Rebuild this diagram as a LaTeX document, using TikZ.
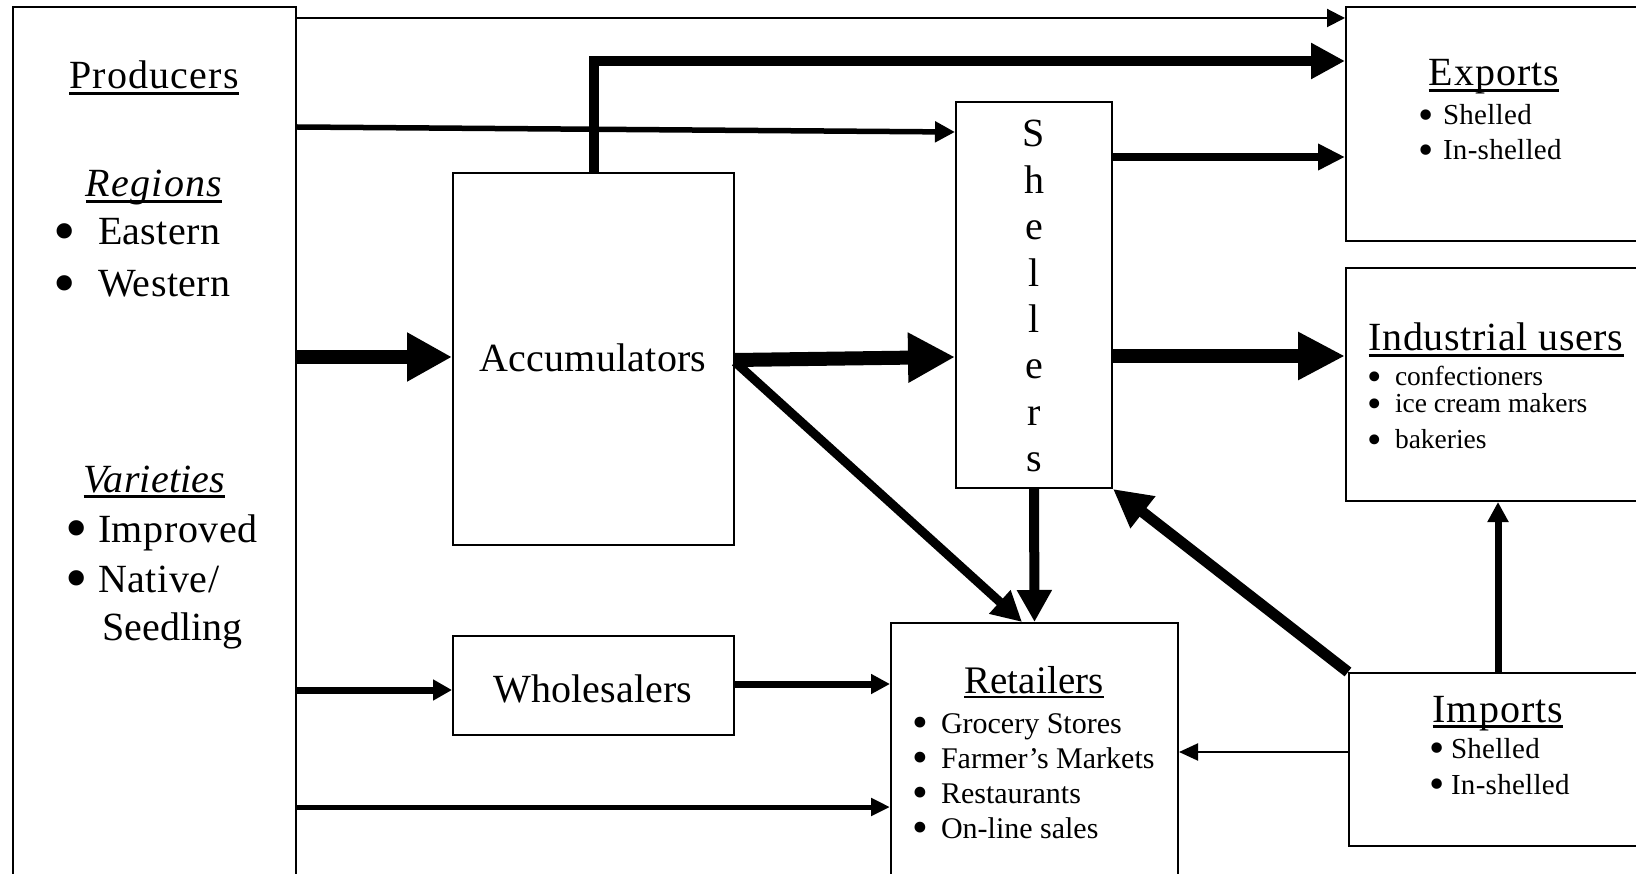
\documentclass[tikz,border=0pt]{standalone}
\usepackage{fontspec}
\usepackage{graphicx}
\setmainfont{Liberation Serif}
\usetikzlibrary{arrows.meta}
\newcommand\ft[2]{\fontsize{#1}{#1}\selectfont\addfontfeature{LetterSpace=#2}}
\newcommand\ulx[1]{\setbox0\hbox{#1}\rlap{\rule[-0.14em]{\wd0}{0.07em}}\box0}
\newcommand\bul[2]{\makebox[#1][l]{\smash{\raisebox{-0.19em}{\scalebox{1.6}{•}}}}#2}
\newcommand\sbul[2]{\makebox[#1][l]{\smash{\raisebox{-0.16em}{\scalebox{1.5}{•}}}}#2}
\tikzset{
  box/.style={draw, line width=2pt, rectangle, inner sep=0pt},
  txt/.style={inner sep=0pt, outer sep=0pt},
  ar/.style n args={3}{line width=#1, -{Triangle[length=#2,width=#3]}}
}
\begin{document}
\begin{tikzpicture}[x=1pt,y=-1pt]
\useasboundingbox (0,0) rectangle (1636,874);
\fill[white] (0,0) rectangle (1636,874);
% boxes
\node[box, minimum width=283pt, minimum height=893pt] (prod) at (154.5,453.5) {};
\node[box, minimum width=281pt, minimum height=372pt] (acc) at (593.5,359) {};
\node[box, minimum width=281pt, minimum height=99pt] (whol) at (593.5,685.5) {};
\node[box, minimum width=156pt, minimum height=386pt] (shel) at (1034,295) {};
\node[box, minimum width=334pt, minimum height=234pt] (exp) at (1513,124) {};
\node[box, minimum width=334pt, minimum height=233pt] (ind) at (1513,384.5) {};
\node[box, minimum width=287pt, minimum height=277pt] (ret) at (1034.5,761.5) {};
\node[box, minimum width=331pt, minimum height=173pt] (imp) at (1514.5,759.5) {};
% producers texts
\node[txt, anchor=base] (tprod) at (154,89) {\ft{40}{3}\ulx{Producers}};
\node[txt, anchor=base] (treg) at (154,197) {\itshape\ft{40}{3}\ulx{Regions}};
\node[txt, anchor=base west] (teast) at (53.8,245) {\ft{40}{1}\bul{44.2pt}{Eastern}};
\node[txt, anchor=base west] (twest) at (53.8,297) {\ft{40}{1}\bul{44.2pt}{Western}};
\node[txt, anchor=base] (tvar) at (154.5,492) {\itshape\ft{40}{0.5}\ulx{Varieties}};
\node[txt, anchor=base west] (timpr) at (65.8,542) {\ft{40}{1.5}\bul{32.2pt}{Improved}};
\node[txt, anchor=base west] (tnat) at (65.8,592) {\ft{40}{1.5}\bul{32.2pt}{Native/}};
\node[txt, anchor=base west] (tseed) at (102,640) {\ft{40}{0.3}Seedling};
% middle texts
\node[txt, anchor=base] (tacc) at (593,372) {\ft{40}{0.5}Accumulators};
\node[txt, anchor=base] (twhol) at (593,702) {\ft{40}{0.3}Wholesalers};
\node[txt, anchor=base] (s1) at (1034,147) {\ft{40}{0}S};
\node[txt, anchor=base] (s2) at (1034,193.4) {\ft{40}{0}h};
\node[txt, anchor=base] (s3) at (1034,239.8) {\ft{40}{0}e};
\node[txt, anchor=base] (s4) at (1034,286.2) {\ft{40}{0}l};
\node[txt, anchor=base] (s5) at (1034,332.6) {\ft{40}{0}l};
\node[txt, anchor=base] (s6) at (1034,379) {\ft{40}{0}e};
\node[txt, anchor=base] (s7) at (1034,425.4) {\ft{40}{0}r};
\node[txt, anchor=base] (s8) at (1034,471.8) {\ft{40}{0}s};
% exports
\node[txt, anchor=base] (texp) at (1494,86) {\ft{40}{2.7}\ulx{Exports}};
\node[txt, anchor=base west] (te1) at (1418.4,125) {\ft{29}{1}\sbul{24.6pt}{Shelled}};
\node[txt, anchor=base west] (te2) at (1418.4,160) {\ft{29}{1}\sbul{24.6pt}{In-shelled}};
% industrial
\node[txt, anchor=base] (tind) at (1496,351) {\ft{40}{1.7}\ulx{Industrial users}};
\node[txt, anchor=base west] (ti1) at (1367.8,386) {\ft{27.5}{0}\sbul{27.2pt}{confectioners}};
\node[txt, anchor=base west] (ti2) at (1367.8,413) {\ft{27.5}{0}\sbul{27.2pt}{ice cream makers}};
\node[txt, anchor=base west] (ti3) at (1367.8,449) {\ft{27.5}{0}\sbul{27.2pt}{bakeries}};
% imports
\node[txt, anchor=base] (timp) at (1498,722) {\ft{40}{2.7}\ulx{Imports}};
\node[txt, anchor=base west] (tm1) at (1429.4,758) {\ft{29}{1}\sbul{21.6pt}{Shelled}};
\node[txt, anchor=base west] (tm2) at (1429.4,794) {\ft{29}{1}\sbul{21.6pt}{In-shelled}};
% retailers
\node[txt, anchor=base] (tret) at (1034,693) {\ft{39}{0.3}\ulx{Retailers}};
\node[txt, anchor=base west] (tr1) at (912.1,733) {\ft{30}{0}\sbul{28.9pt}{Grocery Stores}};
\node[txt, anchor=base west] (tr2) at (912.1,768) {\ft{30}{0}\sbul{28.9pt}{Farmer’s Markets}};
\node[txt, anchor=base west] (tr3) at (912.1,803) {\ft{30}{0}\sbul{28.9pt}{Restaurants}};
\node[txt, anchor=base west] (tr4) at (912.1,838) {\ft{30}{0}\sbul{28.9pt}{On-line sales}};
% helper coordinates
\coordinate (h18) at (0,18);
\coordinate (h127) at (0,127);
\coordinate (h132) at (0,132);
\coordinate (h61) at (0,61);
\coordinate (h357) at (0,357);
\coordinate (h360) at (0,360);
\coordinate (h362) at (0,362);
\coordinate (h157) at (0,157);
\coordinate (h356) at (0,356);
\coordinate (h752) at (0,752);
\coordinate (h690) at (0,690);
\coordinate (h684) at (0,684);
\coordinate (h807) at (0,807);
\coordinate (v1022) at (1022,0);
\coordinate (v1498) at (1498,0);
% connectors
\draw[ar={2pt}{18pt}{18pt}] (prod.east |- h18) -- (exp.west |- h18);
\draw[ar={5.5pt}{20pt}{20pt}] (prod.east |- h127) -- (shel.west |- h132);
\draw[ar={10pt}{34pt}{34pt}] (acc.north) |- (exp.west |- h61);
\draw[ar={14pt}{45pt}{46pt}] (prod.east |- h357) -- (acc.west |- h357);
\draw[ar={14pt}{47pt}{47pt}] (acc.east |- h360) -- (shel.west |- h357);
\draw[ar={9pt}{30pt}{30pt}] (acc.east |- h362) -- (v1022 |- ret.north);
\draw[ar={8pt}{27pt}{25pt}] (shel.east |- h157) -- (exp.west |- h157);
\draw[ar={14pt}{47pt}{45pt}] (shel.east |- h356) -- (ind.west |- h356);
\draw[ar={10pt}{32pt}{33pt}] (shel.south) -- (ret.north);
\draw[ar={11pt}{38pt}{38pt}] (imp.north west) -- (shel.south east);
\draw[ar={7pt}{20pt}{20pt}] (v1498 |- imp.north) -- (v1498 |- ind.south);
\draw[ar={2pt}{19pt}{17pt}] (imp.west |- h752) -- (ret.east |- h752);
\draw[ar={7pt}{19pt}{20pt}] (prod.east |- h690) -- (whol.west |- h690);
\draw[ar={7pt}{19pt}{19pt}] (whol.east |- h684) -- (ret.west |- h684);
\draw[ar={5pt}{19pt}{17pt}] (prod.east |- h807) -- (ret.west |- h807);
\end{tikzpicture}
\end{document}
